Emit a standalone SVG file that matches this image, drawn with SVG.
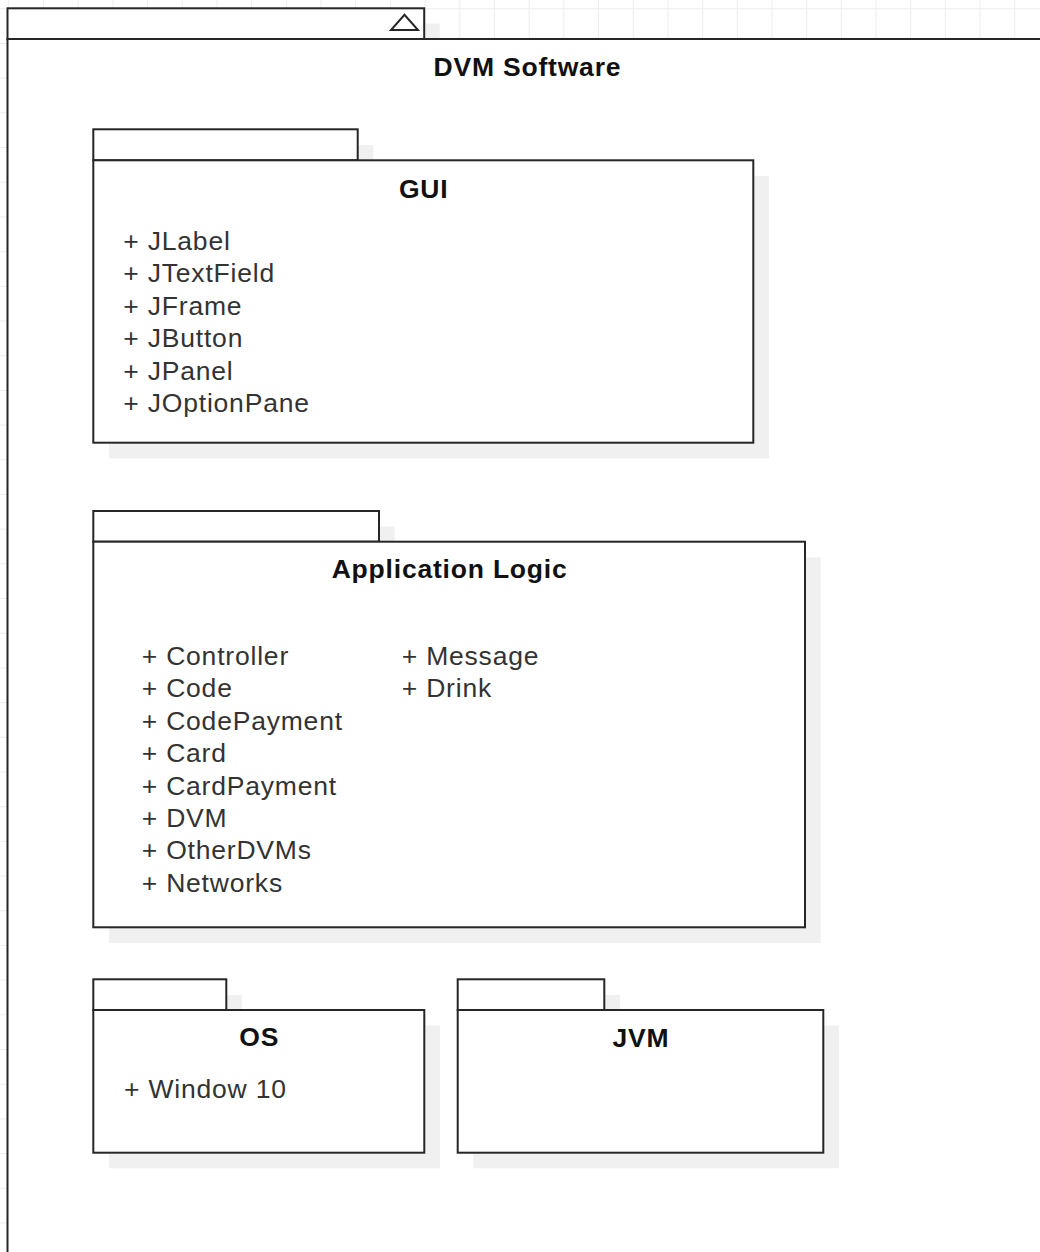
<svg xmlns="http://www.w3.org/2000/svg" width="1040" height="1252" viewBox="0 0 1040 1252">
<style>
.ln{fill:#ffffff;stroke:#262626;stroke-width:2}
.sh{fill:#f0f0f0;stroke:none}
.t{font-family:"Liberation Sans",Arial,Helvetica,sans-serif;font-size:26.5px;letter-spacing:0.8px;fill:#333333}
.h{font-family:"Liberation Sans",Arial,Helvetica,sans-serif;font-size:26.5px;letter-spacing:0.8px;font-weight:bold;fill:#111111;text-anchor:middle}
</style>
<defs>
<pattern id="grid" patternUnits="userSpaceOnUse" x="8.3" y="8.3" width="34.69" height="34.69">
<path d="M0 0.5H34.69M0.5 0V34.69" fill="none" stroke="#ededed" stroke-width="1"/>
</pattern>
</defs>
<rect x="0" y="0" width="1040" height="1252" fill="#ffffff"/>
<rect x="0" y="0" width="1040" height="1252" fill="url(#grid)"/>
<g id="frame">
<rect class="sh" x="424.2" y="23.6" width="15.6" height="15.4"/>
<rect class="ln" x="7.5" y="8.3" width="416.7" height="30.7"/>
<rect class="ln" x="7.5" y="39" width="1100" height="1300"/>
<polygon points="391,30 418,30 404.5,14.8" fill="none" stroke="#262626" stroke-width="2"/>
<text class="h" x="527.4" y="76">DVM Software</text>
</g>
<g id="gui">
<rect class="sh" x="357.7" y="145" width="15.6" height="20"/>
<rect class="sh" x="109" y="176" width="660" height="282.4"/>
<rect class="ln" x="93.3" y="129.3" width="264.4" height="31"/>
<rect class="ln" x="93.3" y="160.3" width="660" height="282.4"/>
<text class="h" x="423.7" y="197.5">GUI</text>
<text class="t" x="123.3" y="250">+ JLabel</text>
<text class="t" x="123.3" y="282.4">+ JTextField</text>
<text class="t" x="123.3" y="314.8">+ JFrame</text>
<text class="t" x="123.3" y="347.2">+ JButton</text>
<text class="t" x="123.3" y="379.6">+ JPanel</text>
<text class="t" x="123.3" y="412">+ JOptionPane</text>
</g>
<g id="application-logic">
<rect class="sh" x="379" y="526.6" width="15.6" height="20"/>
<rect class="sh" x="109" y="557.3" width="711.7" height="385.6"/>
<rect class="ln" x="93.3" y="511" width="285.7" height="30.7"/>
<rect class="ln" x="93.3" y="541.7" width="711.7" height="385.6"/>
<text class="h" x="449.6" y="578">Application Logic</text>
<text class="t" x="141.7" y="665">+ Controller</text>
<text class="t" x="141.7" y="697.4">+ Code</text>
<text class="t" x="141.7" y="729.8">+ CodePayment</text>
<text class="t" x="141.7" y="762.2">+ Card</text>
<text class="t" x="141.7" y="794.6">+ CardPayment</text>
<text class="t" x="141.7" y="827">+ DVM</text>
<text class="t" x="141.7" y="859.4">+ OtherDVMs</text>
<text class="t" x="141.7" y="891.8">+ Networks</text>
<text class="t" x="401.7" y="665">+ Message</text>
<text class="t" x="401.7" y="697.4">+ Drink</text>
</g>
<g id="os">
<rect class="sh" x="226.3" y="994.9" width="15.6" height="20"/>
<rect class="sh" x="109" y="1025.6" width="331" height="142.7"/>
<rect class="ln" x="93.3" y="979.3" width="133" height="30.7"/>
<rect class="ln" x="93.3" y="1010" width="331" height="142.7"/>
<text class="h" x="259.2" y="1046">OS</text>
<text class="t" x="124" y="1098.3">+ Window 10</text>
</g>
<g id="jvm">
<rect class="sh" x="604.3" y="994.9" width="15.6" height="20"/>
<rect class="sh" x="473.3" y="1025.6" width="365.6" height="142.7"/>
<rect class="ln" x="457.7" y="979.3" width="146.6" height="30.7"/>
<rect class="ln" x="457.7" y="1010" width="365.6" height="142.7"/>
<text class="h" x="640.9" y="1046.5">JVM</text>
</g>
<g id="connectors"></g>
</svg>
